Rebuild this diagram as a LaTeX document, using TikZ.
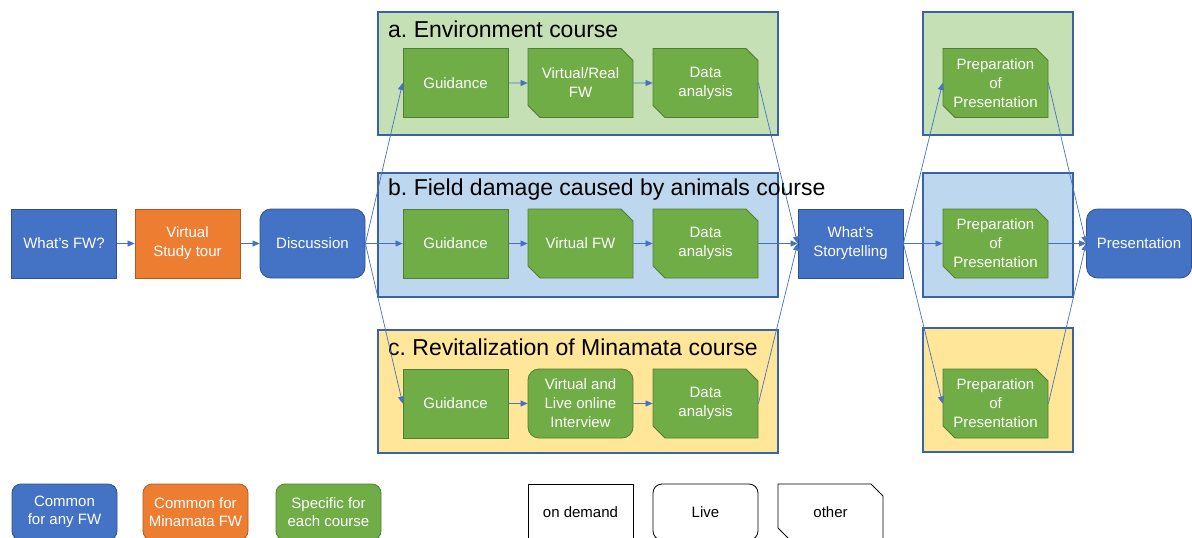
\documentclass[tikz,border=0pt]{standalone}
\usepackage{fontspec}
\setmainfont{Liberation Sans}
\frenchspacing
\usetikzlibrary{arrows.meta,shapes.misc}
\definecolor{cblue}{HTML}{4472C4}
\definecolor{cblueD}{HTML}{2F528F}
\definecolor{corange}{HTML}{ED7D31}
\definecolor{corangeD}{HTML}{AE5A21}
\definecolor{cgreen}{HTML}{70AD47}
\definecolor{cgreenD}{HTML}{507E32}
\definecolor{lgreen}{HTML}{C5E0B4}
\definecolor{lblue}{HTML}{BDD7EE}
\definecolor{lyellow}{HTML}{FFE699}
\definecolor{frame}{HTML}{3A62A8}
\tikzset{
  box/.style={minimum width=105pt, minimum height=69pt, inner sep=2pt, align=center,
    text=white, font=\fontsize{15}{19}\selectfont, line width=0.8pt},
  bluebox/.style={box, fill=cblue, draw=cblueD},
  orangebox/.style={box, fill=corange, draw=corangeD},
  greenbox/.style={box, fill=cgreen, draw=cgreenD},
  rnd/.style={rounded corners=11pt},
  snipbox/.style={chamfered rectangle, chamfered rectangle corners={north east,south west},
    chamfered rectangle xsep=6pt, chamfered rectangle ysep=6pt},
  container/.style={draw=frame, line width=1.3pt, inner sep=0pt},
  title/.style={anchor=west, font=\fontsize{23}{27}\selectfont, inner sep=0pt},
  conn/.style={draw=cblue, line width=0.7pt, -{Triangle[length=7pt,width=6pt]}},
  legbox/.style={minimum width=105pt, minimum height=56pt, inner sep=2pt, align=center,
    font=\fontsize{15}{18}\selectfont, line width=0.8pt},
  legw/.style={legbox, draw=black, fill=white, text=black}
}
\begin{document}
\begin{tikzpicture}[x=1pt,y=-1pt]
\useasboundingbox (0,0) rectangle (1192,538);
% containers
\node[container, fill=lgreen, minimum width=400pt, minimum height=123pt] (ca) at (578,73.5) {};
\node[container, fill=lblue, minimum width=400pt, minimum height=124pt] (cb) at (578,235) {};
\node[container, fill=lyellow, minimum width=400pt, minimum height=123pt] (cc) at (578,391.5) {};
\node[container, fill=lgreen, minimum width=150pt, minimum height=123pt] (ra) at (998,73.5) {};
\node[container, fill=lblue, minimum width=150pt, minimum height=124pt] (rb) at (998,235) {};
\node[container, fill=lyellow, minimum width=150pt, minimum height=124pt] (rc) at (998,390) {};
\node[title] (ta) at (388,29) {a. Environment course};
\node[title] (tb) at (388,190) {b. Field damage caused by animals course};
\node[title] (tc) at (388,347) {c. Revitalization of Minamata course};
% left chain
\node[bluebox] (fw) at (64,243.5) {What’s FW?};
\node[orangebox] (vst) at (187.5,243.5) {Virtual\\Study tour};
\node[bluebox, rnd] (disc) at (312.5,243.5) {Discussion};
% course a
\node[greenbox] (ga) at (455.5,83) {Guidance};
\node[greenbox, snipbox] (va) at (580.5,83) {Virtual/Real\\FW};
\node[greenbox, snipbox] (da) at (705.5,83) {Data\\analysis};
% course b
\node[greenbox] (gb) at (455.5,243.5) {Guidance};
\node[greenbox, snipbox] (vb) at (580.5,243.5) {Virtual FW};
\node[greenbox, snipbox] (db) at (705.5,243.5) {Data\\analysis};
% course c
\node[greenbox] (gc) at (455.5,403.5) {Guidance};
\node[greenbox, rnd] (vc) at (580.5,403.5) {Virtual and\\Live online\\Interview};
\node[greenbox, snipbox] (dc) at (705.5,403.5) {Data\\analysis};
% storytelling
\node[bluebox] (st) at (850.5,243.5) {What’s\\Storytelling};
% preparation
\node[greenbox, snipbox] (pa) at (995.5,83) {Preparation\\of\\Presentation};
\node[greenbox, snipbox] (pb) at (995.5,243.5) {Preparation\\of\\Presentation};
\node[greenbox, snipbox] (pc) at (995.5,403.5) {Preparation\\of\\Presentation};
\node[bluebox, rnd] (pres) at (1139,243.5) {Presentation};
% connectors
\draw[conn] (fw) -- (vst);
\draw[conn] (vst) -- (disc);
\draw[conn] (disc.east) -- (ga.west);
\draw[conn] (disc.east) -- (gb.west);
\draw[conn] (disc.east) -- (gc.west);
\draw[conn] (ga) -- (va);
\draw[conn] (va) -- (da);
\draw[conn] (gb) -- (vb);
\draw[conn] (vb) -- (db);
\draw[conn] (gc) -- (vc);
\draw[conn] (vc) -- (dc);
\draw[conn] (da.east) -- (st.west);
\draw[conn] (db.east) -- (st.west);
\draw[conn] (dc.east) -- (st.west);
\draw[conn] (st.east) -- (pa.west);
\draw[conn] (st.east) -- (pb.west);
\draw[conn] (st.east) -- (pc.west);
\draw[conn] (pa.east) -- (pres.west);
\draw[conn] (pb.east) -- (pres.west);
\draw[conn] (pc.east) -- (pres.west);
% legend
\node[legbox, fill=cblue, draw=cblueD, text=white, rounded corners=9pt] (l1) at (64.5,512) {Common\\for any FW};
\node[legbox, fill=corange, draw=corangeD, text=white, rounded corners=9pt] (l2) at (195.5,512) {Common for\\Minamata FW};
\node[legbox, fill=cgreen, draw=cgreenD, text=white, rounded corners=9pt] (l3) at (328.5,512) {Specific for\\each course};
\node[legw] (l4) at (580.5,512) {on demand};
\node[legw, rounded corners=9pt] (l5) at (705.5,512) {Live};
\node[legw, snipbox] (l6) at (830.5,512) {other};
\end{tikzpicture}
\end{document}
